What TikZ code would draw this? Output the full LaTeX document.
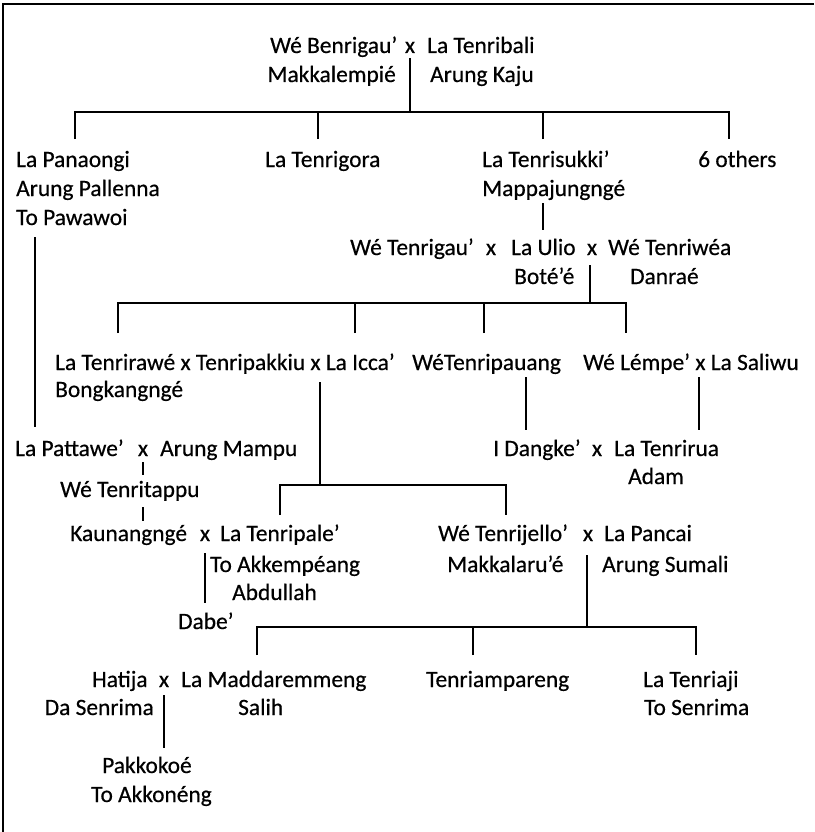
\documentclass[tikz,border=0pt]{standalone}
\usepackage{fontspec}
\setmainfont{Carlito}[FakeBold=0.5]
\begin{document}
\begin{tikzpicture}[x=1pt,y=-1pt,
  t/.style={inner sep=0pt, anchor=base west, font=\fontsize{23.4}{28}\selectfont},
  te/.style={t, anchor=base east},
  tc/.style={t, anchor=base},
  ln/.style={line width=1.9pt}]
\useasboundingbox (0,0) rectangle (814,832);
% frame (top and left edges only)
\coordinate (fa) at (3,832); \coordinate (fb) at (3,4); \coordinate (fc) at (814,4);
\draw[ln] (fa) -- (fb) -- (fc);

% ---- generation 1
\node[t]  (wb) at (270,53) {Wé Benrigau’};
\node[tc] (x1) at (410,53) {x};
\node[t]  (lt) at (427,53) {La Tenribali};
\node[te] (mk) at (396,82) {Makkalempié};
\node[t]  (ak) at (430,82) {Arung Kaju};
\coordinate (p1) at (410,58); \coordinate (p1b) at (410,112);
\coordinate (k1a) at (75,139); \coordinate (k1b) at (318,139);
\coordinate (k1c) at (543,139); \coordinate (k1d) at (729,139);
\draw[ln] (p1) -- (p1b);
\draw[ln] (k1a) |- (p1b) -| (k1d);
\draw[ln] (k1b) -- (k1b |- p1b);
\draw[ln] (k1c) -- (k1c |- p1b);

% ---- generation 2
\node[t] (lp1) at (16,167) {La Panaongi};
\node[t] (lp2) at (16,196) {Arung Pallenna};
\node[t] (lp3) at (16,225) {To Pawawoi};
\node[t] (tg)  at (265,167) {La Tenrigora};
\node[t] (ts1) at (482,167) {La Tenrisukki’};
\node[t] (ts2) at (482,196) {Mappajungngé};
\node[t] (six) at (698,167) {6 others};
\coordinate (q1) at (543,203); \coordinate (q1b) at (543,230);
\draw[ln] (q1) -- (q1b);
\coordinate (l1) at (35,237); \coordinate (l1b) at (35,427);
\draw[ln] (l1) -- (l1b);

% ---- La Ulio and wives
\node[te] (wt)  at (474,255) {Wé Tenrigau’};
\node[tc] (x2)  at (491,255) {x};
\node[t]  (lu)  at (511,255) {La Ulio};
\node[tc] (x3)  at (592,255) {x};
\node[t]  (wtw) at (608,255) {Wé Tenriwéa};
\node[t]  (bt)  at (514,284) {Boté’é};
\node[t]  (dr)  at (630,284) {Danraé};
\coordinate (r1) at (590,265); \coordinate (r1b) at (590,303);
\coordinate (k2a) at (118,333); \coordinate (k2b) at (355,333);
\coordinate (k2c) at (484,333); \coordinate (k2d) at (626,333);
\draw[ln] (r1) -- (r1b);
\draw[ln] (k2a) |- (r1b) -| (k2d);
\draw[ln] (k2b) -- (k2b |- r1b);
\draw[ln] (k2c) -- (k2c |- r1b);

% ---- generation 4
\node[t] (ltr) at (55,370) {La Tenrirawé x Tenripakkiu x La Icca’};
\node[t] (wtp) at (412,370) {WéTenripauang};
\node[t] (wl)  at (583,370) {Wé Lémpe’ x La Saliwu};
\node[t] (bk)  at (55,397) {Bongkangngé};
\coordinate (s1) at (320,382); \coordinate (s1b) at (320,485);
\coordinate (k3a) at (280,515); \coordinate (k3b) at (506,515);
\draw[ln] (s1) -- (s1b);
\draw[ln] (k3a) |- (s1b) -| (k3b);
\coordinate (u1) at (526,377); \coordinate (u1b) at (526,430);
\draw[ln] (u1) -- (u1b);
\coordinate (v1) at (699,377); \coordinate (v1b) at (699,430);
\draw[ln] (v1) -- (v1b);

% ---- left branch
\node[t]  (pt)  at (15,456) {La Pattawe’};
\node[tc] (x4)  at (143,456) {x};
\node[t]  (am)  at (160,456) {Arung Mampu};
\coordinate (w1) at (143,462); \coordinate (w1b) at (143,475);
\draw[ln] (w1) -- (w1b);
\node[t]  (wtt) at (60,497) {Wé Tenritappu};
\coordinate (w2) at (143,507); \coordinate (w2b) at (143,521);
\draw[ln] (w2) -- (w2b);
\node[t]  (kn)  at (70,541) {Kaunangngé};
\node[tc] (x5)  at (205,541) {x};
\node[t]  (ltp) at (220,541) {La Tenripale’};
\node[t]  (ta)  at (210,572) {To Akkempéang};
\node[t]  (ab)  at (232,600) {Abdullah};
\coordinate (y1) at (205,553); \coordinate (y1b) at (205,603);
\draw[ln] (y1) -- (y1b);
\node[t]  (db)  at (178,629) {Dabe’};

% ---- right branch
\node[t]  (idk) at (493,456) {I Dangke’};
\node[tc] (x6)  at (597,456) {x};
\node[t]  (ltu) at (614,456) {La Tenrirua};
\node[t]  (ad)  at (628,484) {Adam};

\node[t]  (wtj) at (438,541) {Wé Tenrijello’};
\node[tc] (x7)  at (588,541) {x};
\node[t]  (lpc) at (604,541) {La Pancai};
\node[t]  (mkr) at (447,572) {Makkalaru’é};
\node[t]  (asu) at (602,572) {Arung Sumali};
\coordinate (z1) at (587,555); \coordinate (z1b) at (587,627);
\coordinate (k4a) at (257,655); \coordinate (k4b) at (473,655); \coordinate (k4c) at (696,655);
\draw[ln] (z1) -- (z1b);
\draw[ln] (k4a) |- (z1b) -| (k4c);
\draw[ln] (k4b) -- (k4b |- z1b);

% ---- last generations
\node[t]  (ht)  at (92,687) {Hatija};
\node[tc] (x8)  at (164,687) {x};
\node[t]  (lm)  at (181,687) {La Maddaremmeng};
\node[te] (ds)  at (154,715) {Da Senrima};
\node[t]  (sl)  at (238,715) {Salih};
\node[t]  (tam) at (426,687) {Tenriampareng};
\node[t]  (lta) at (643,687) {La Tenriaji};
\node[t]  (tsn) at (644,715) {To Senrima};
\coordinate (h1) at (164,695); \coordinate (h1b) at (164,748);
\draw[ln] (h1) -- (h1b);
\node[t]  (pk)  at (102,773) {Pakkokoé};
\node[t]  (tak) at (91,802) {To Akkonéng};
\end{tikzpicture}
\end{document}
